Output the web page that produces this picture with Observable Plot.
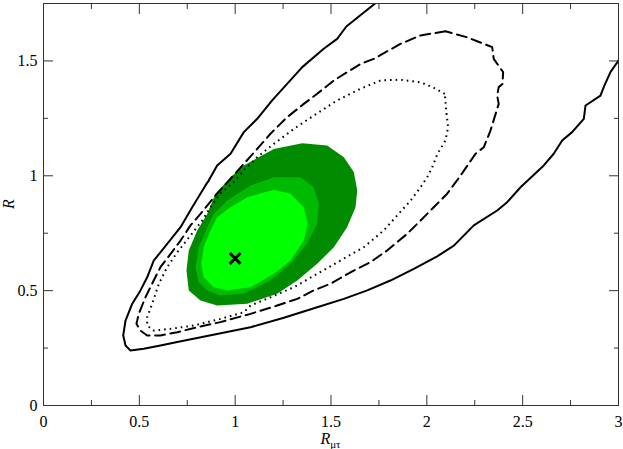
<!DOCTYPE html>
<html>
<head>
<meta charset="utf-8">
<script src="https://cdn.jsdelivr.net/npm/d3@7"></script>
<script src="https://cdn.jsdelivr.net/npm/@observablehq/plot@0.6"></script>
<style>
  html, body { margin: 0; padding: 0; background: white; }
  svg text { font-family: "Liberation Serif", "DejaVu Serif", serif; }
</style>
</head>
<body>
<div id="chart"></div>
<script>
// ---- data ----
const xMajorTicks = [0, 0.5, 1, 1.5, 2, 2.5, 3];
const xMinorTicks = [0.25, 0.75, 1.25, 1.75, 2.25, 2.75];
const yMajorTicks = [0, 0.5, 1, 1.5];
const yMinorTicks = [0.25, 0.75, 1.25];
const xTickLabels = ["0", "0.5", "1", "1.5", "2", "2.5", "3"];
const yTickLabels = ["0", "0.5", "1", "1.5"];

// outer solid contour (open, runs off the top and right edges)
const contourSolid = [
  [1.73,1.75],[1.58,1.65],[1.532,1.596],[1.462,1.553],[1.350,1.473],[1.271,1.400],
  [1.193,1.328],[1.115,1.248],[1.045,1.190],[0.976,1.096],[0.906,1.045],[0.862,0.979],
  [0.845,0.958],[0.776,0.863],[0.715,0.776],[0.610,0.667],[0.575,0.631],[0.541,0.558],
  [0.506,0.501],[0.463,0.443],[0.428,0.370],[0.416,0.305],[0.428,0.261],[0.454,0.239],
  [0.523,0.247],[0.610,0.261],[0.698,0.276],[1.080,0.341],[1.254,0.382],[1.428,0.428],
  [1.567,0.464],[1.689,0.501],[1.810,0.544],[1.932,0.595],[2.054,0.649],[2.141,0.696],
  [2.245,0.784],[2.367,0.849],[2.419,0.885],[2.489,0.950],[2.610,1.045],[2.662,1.096],
  [2.706,1.154],[2.758,1.190],[2.819,1.248],[2.828,1.306],[2.906,1.349],[2.923,1.386],
  [2.958,1.451],[3.0,1.502]
];

// dashed contour (closed)
const contourDashed = [
  [2.097,1.629],[1.967,1.611],[1.862,1.574],[1.723,1.509],[1.654,1.487],[1.515,1.415],
  [1.428,1.357],[1.358,1.313],[1.271,1.255],[1.184,1.183],[1.115,1.117],[1.045,1.052],
  [0.976,0.987],[0.897,0.914],[0.819,0.834],[0.767,0.784],[0.715,0.718],[0.663,0.660],
  [0.610,0.602],[0.575,0.544],[0.532,0.471],[0.497,0.399],[0.485,0.356],[0.506,0.326],
  [0.541,0.305],[0.610,0.305],[0.698,0.319],[0.802,0.341],[0.923,0.363],[1.080,0.399],
  [1.219,0.435],[1.324,0.464],[1.410,0.501],[1.497,0.530],[1.602,0.580],[1.706,0.624],
  [1.793,0.675],[1.897,0.747],[1.967,0.805],[2.036,0.863],[2.106,0.922],[2.176,1.001],
  [2.254,1.096],[2.297,1.124],[2.332,1.197],[2.375,1.313],[2.367,1.349],[2.375,1.386],
  [2.395,1.400],[2.398,1.451],[2.349,1.509],[2.341,1.560],[2.210,1.603],[2.097,1.629]
];

// dotted contour (closed)
const contourDotted = [
  [2.094,1.357],[2.036,1.383],[1.967,1.407],[1.862,1.418],[1.758,1.415],[1.654,1.379],
  [1.532,1.328],[1.410,1.262],[1.306,1.204],[1.202,1.139],[1.115,1.081],[1.045,1.023],
  [0.993,0.972],[0.923,0.922],[0.871,0.863],[0.828,0.805],[0.767,0.740],[0.698,0.667],
  [0.645,0.602],[0.602,0.530],[0.567,0.443],[0.541,0.384],[0.541,0.348],[0.575,0.326],
  [0.663,0.334],[0.784,0.348],[0.923,0.377],[1.045,0.406],[1.080,0.435],[1.184,0.471],
  [1.306,0.515],[1.428,0.573],[1.549,0.631],[1.671,0.689],[1.775,0.762],[1.915,0.892],
  [1.967,0.950],[2.002,0.994],[2.028,1.037],[2.054,1.093],[2.097,1.154],[2.111,1.211],
  [2.101,1.284],[2.094,1.357]
];

// filled regions
const regionOuter = [
  [1.350,1.142],[1.480,1.132],[1.567,1.081],[1.619,1.016],[1.637,0.936],[1.628,0.863],
  [1.584,0.776],[1.515,0.689],[1.428,0.617],[1.324,0.544],[1.219,0.486],[1.063,0.443],
  [0.906,0.435],[0.819,0.457],[0.758,0.501],[0.746,0.588],[0.758,0.675],[0.802,0.762],
  [0.854,0.834],[0.897,0.922],[0.976,0.994],[1.045,1.045],[1.202,1.117],[1.350,1.142]
];
const regionMiddle = [
  [1.202,0.994],[1.341,0.994],[1.410,0.950],[1.436,0.878],[1.428,0.791],[1.376,0.704],
  [1.289,0.617],[1.184,0.544],[1.045,0.486],[0.923,0.479],[0.854,0.501],[0.810,0.537],
  [0.793,0.602],[0.810,0.689],[0.854,0.776],[0.888,0.834],[0.958,0.892],[1.080,0.958],
  [1.202,0.994]
];
const regionInner = [
  [1.202,0.939],[1.289,0.922],[1.358,0.863],[1.379,0.791],[1.358,0.718],[1.289,0.631],
  [1.202,0.573],[1.080,0.515],[0.958,0.501],[0.888,0.515],[0.836,0.558],[0.823,0.617],
  [0.836,0.689],[0.871,0.762],[0.906,0.820],[0.976,0.863],[1.063,0.907],[1.202,0.939]
];
const bestFit = [[1.0, 0.64]];

const regionColors = ["#008b00", "#00b900", "#00ff00"];

// ---- chart ----
const font = "Liberation Serif";
const axisColor = "#333";

const chart = Plot.plot({
  width: 623,
  height: 449,
  marginLeft: 43,
  marginRight: 5,
  marginTop: 3,
  marginBottom: 44,
  x: {domain: [0, 3]},
  y: {domain: [0, 1.75]},
  style: {fontFamily: font, fontSize: "16px", color: "black", background: "white"},
  marks: [
    Plot.line(regionOuter, {x: d => d[0], y: d => d[1], fill: regionColors[0], stroke: "none"}),
    Plot.line(regionMiddle, {x: d => d[0], y: d => d[1], fill: regionColors[1], stroke: "none"}),
    Plot.line(regionInner, {x: d => d[0], y: d => d[1], fill: regionColors[2], stroke: "none"}),
    Plot.line(contourDotted, {x: d => d[0], y: d => d[1], stroke: "black", strokeWidth: 2, strokeDasharray: "1.6,4", strokeLinecap: "butt"}),
    Plot.line(contourDashed, {x: d => d[0], y: d => d[1], stroke: "black", strokeWidth: 2, strokeDasharray: "10,5.5"}),
    Plot.line(contourSolid, {x: d => d[0], y: d => d[1], stroke: "black", strokeWidth: 2, clip: true}),
    Plot.dot(bestFit, {x: d => d[0], y: d => d[1], symbol: "times", r: 5, stroke: "black", strokeWidth: 3}),
    Plot.frame({stroke: axisColor, strokeWidth: 1}),
    // inward ticks
    Plot.axisX(xMajorTicks, {anchor: "bottom", tickSize: -10, fill: "none", stroke: axisColor, label: null}),
    Plot.axisX(xMinorTicks, {anchor: "bottom", tickSize: -5, fill: "none", stroke: axisColor, label: null}),
    Plot.axisX(xMajorTicks, {anchor: "top", tickSize: -10, fill: "none", stroke: axisColor, label: null}),
    Plot.axisX(xMinorTicks, {anchor: "top", tickSize: -5, fill: "none", stroke: axisColor, label: null}),
    Plot.axisY(yMajorTicks, {anchor: "left", tickSize: -10, fill: "none", stroke: axisColor, label: null}),
    Plot.axisY(yMinorTicks, {anchor: "left", tickSize: -5, fill: "none", stroke: axisColor, label: null}),
    Plot.axisY(yMajorTicks, {anchor: "right", tickSize: -10, fill: "none", stroke: axisColor, label: null}),
    Plot.axisY(yMinorTicks, {anchor: "right", tickSize: -5, fill: "none", stroke: axisColor, label: null}),
    // tick labels
    Plot.axisX(xMajorTicks, {anchor: "bottom", tickSize: 0, tickPadding: 10, tickFormat: (d, i) => xTickLabels[i], label: null, fontFamily: font, fontSize: 16, fontVariant: "normal"}),
    Plot.axisY(yMajorTicks, {anchor: "left", tickSize: 0, tickPadding: 6, tickFormat: (d, i) => yTickLabels[i], label: null, fontFamily: font, fontSize: 16, fontVariant: "normal"})
  ]
});

document.getElementById("chart").appendChild(chart);

// axis titles (with subscript)
const svg = d3.select(chart);
const xs = chart.scale("x"), ys = chart.scale("y");
const xt = svg.append("text")
  .attr("x", xs.apply(1.5))
  .attr("y", 444)
  .attr("text-anchor", "middle")
  .attr("font-family", font)
  .attr("font-size", 16)
  .attr("fill", "black");
xt.append("tspan").attr("font-style", "italic").text("R");
xt.append("tspan").attr("font-size", 11).attr("dy", 4).text("μτ");

svg.append("text")
  .attr("transform", `translate(14,${ys.apply(0.875)}) rotate(-90)`)
  .attr("text-anchor", "middle")
  .attr("font-family", font)
  .attr("font-size", 16)
  .attr("font-style", "italic")
  .attr("fill", "black")
  .text("R");
</script>
</body>
</html>
